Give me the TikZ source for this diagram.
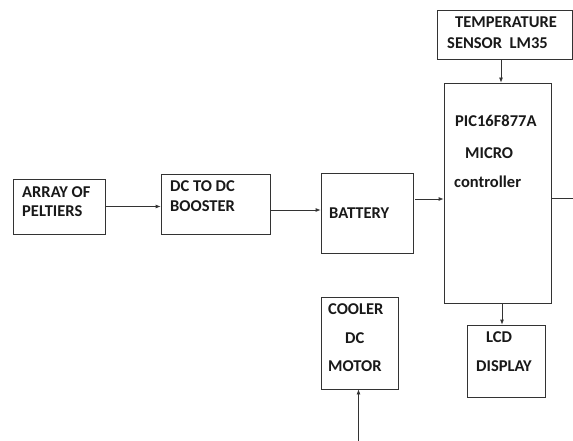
\documentclass[tikz,border=0pt]{standalone}
\usepackage{fontspec}
\setmainfont{Carlito}
\usetikzlibrary{arrows.meta}
\begin{document}
\begin{tikzpicture}[x=1pt,y=-1pt,
  box/.style={draw=black!80, line width=0.8pt, rectangle, inner sep=0pt},
  lbl/.style={anchor=base west, inner sep=0pt, font=\fontsize{16.5}{19}\selectfont\bfseries, text=black!90},
  arr/.style={draw=black!80, line width=0.8pt, -{Latex[length=5pt,width=4pt]}},
  ln/.style={draw=black!80, line width=0.8pt}]
\useasboundingbox[fill=white] (0,0) rectangle (573,441);
% boxes
\node[box, minimum width=92, minimum height=55] (pelt) at (59,206.5) {};
\node[box, minimum width=109, minimum height=60] (boost) at (215.5,204) {};
\node[box, minimum width=92, minimum height=80] (bat) at (367,213) {};
\node[box, minimum width=107, minimum height=220] (pic) at (497.5,193) {};
\node[box, minimum width=135, minimum height=49] (temp) at (504.5,34.5) {};
\node[box, minimum width=78, minimum height=72] (lcd) at (506,361) {};
\node[box, minimum width=77, minimum height=92] (motor) at (359.5,343) {};
% labels
\node[lbl] (t1) at (22,197) {ARRAY OF};
\node[lbl] (t2) at (22,216) {PELTIERS};
\node[lbl] (t3) at (170,191) {DC TO DC};
\node[lbl] (t4) at (170,211) {BOOSTER};
\node[lbl] (t5) at (329,218) {BATTERY};
\node[lbl] (t6) at (455,28) {TEMPERATURE};
\node[lbl] (t7) at (447,49) {SENSOR\ \ LM35};
\node[lbl] (t8) at (455,127) {PIC16F877A};
\node[lbl] (t9) at (465,158) {MICRO};
\node[lbl] (t10) at (454,187) {controller};
\node[lbl] (t11) at (328,314) {COOLER};
\node[lbl] (t12) at (345,343) {DC};
\node[lbl] (t13) at (328,371) {MOTOR};
\node[lbl] (t14) at (486,342) {LCD};
\node[lbl] (t15) at (476,371) {DISPLAY};
% connectors
\draw[arr] (pelt.east) -- (pelt.east -| boost.west);
\draw[arr] ([yshift=-6pt]boost.east) -- ([yshift=-6pt]boost.east -| bat.west);
\draw[arr] ([xshift=2pt,yshift=14pt]bat.east) -- ([yshift=14pt]bat.east -| pic.west);
\draw[arr] ([xshift=-3.5pt]temp.south) -- ([xshift=-3.5pt]temp.south |- pic.north);
\coordinate (out) at (573,198);
\draw[ln] (out -| pic.east) -- (out);
\draw[arr] ([xshift=4.5pt]pic.south) -- ([xshift=4.5pt]pic.south |- lcd.north);
\coordinate (mb) at (358.5,441);
\draw[arr] (mb) -- (mb |- motor.south);
\end{tikzpicture}
\end{document}
